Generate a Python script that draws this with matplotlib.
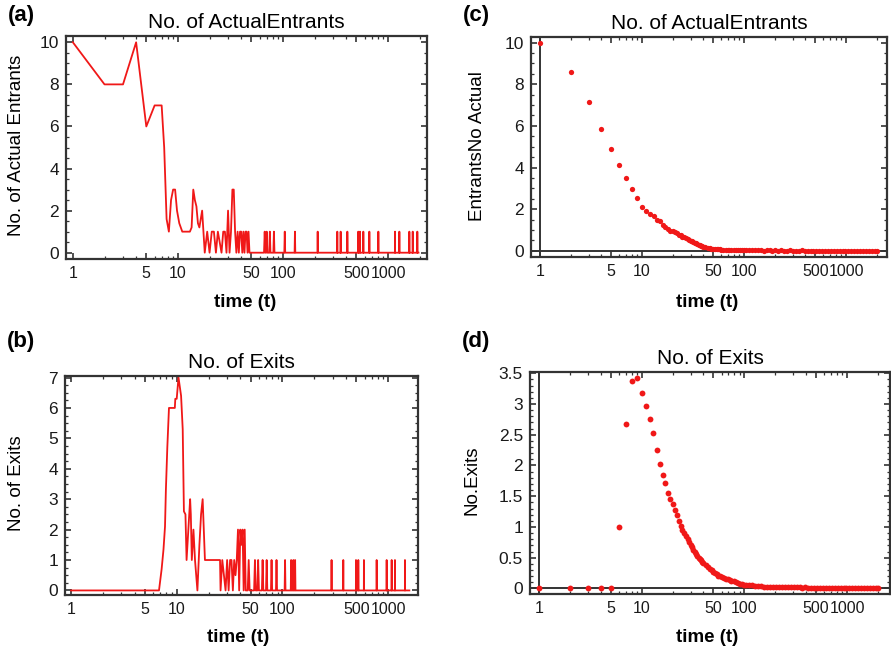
import numpy as np
import matplotlib
matplotlib.use("Agg")
import matplotlib.pyplot as plt
from matplotlib.ticker import FixedLocator, FixedFormatter, MultipleLocator, FormatStrFormatter

plt.rcParams['font.family'] = ['Liberation Sans', 'DejaVu Sans']

RED = '#f01818'
FRAME = '#333333'

# (a) number of actual entrants, single run
entr_t = [1, 2, 3, 4, 5, 6, 7, 7.4, 7.8, 8.2, 8.6, 9, 9.4, 9.8, 10.3, 11, 12, 13, 13.5,
          14, 14.5, 15, 15.5, 16, 17, 17.5, 18, 19, 20,
          21, 22, 23, 24, 25, 26, 27, 28, 29, 30, 31, 32, 33, 34, 35, 36, 37, 38, 39,
          40, 41, 42, 43, 44, 45, 46, 47]
entr_n = [10, 8, 8, 10, 6, 7, 7, 5, 1.6, 1.0, 2.5, 3, 3, 2, 1.4, 1, 1, 1, 1.2,
          3, 2.5, 2.2, 1.4, 1.2, 2, 1, 0, 1, 0,
          1, 1, 0, 1, 0.5, 0, 1, 1, 0, 2, 0, 1, 3, 3, 1, 0, 1, 0, 1,
          1, 0, 1, 0, 1, 1, 0, 1]
entr_spikes = [67, 70, 75, 82, 104, 130, 214, 329, 354, 410, 521, 541, 582, 664,
               809, 1166, 1282, 1596, 1718, 1901]
entr_end = 1950

# (b) number of exits, single run
exit_t = [1, 6.8, 7.2, 7.5, 7.75, 7.9, 8.15, 8.45, 9.6, 9.7, 10, 10.4, 10.7, 11.0, 11.4,
          11.7, 12.1, 12.4, 12.9, 13.4, 13.6, 13.9, 14.4, 14.9, 15.7, 16.4, 17, 17.6,
          18.5, 25.7, 26, 27, 28, 29, 30, 31, 32, 33, 34, 35, 36, 37, 38, 39, 40, 41,
          42, 43, 44, 45]
exit_n = [0, 0, 0.7, 1.35, 2.1, 3.3, 4.7, 6, 6, 6.3, 6.3, 7, 6.7, 6.4, 5.3,
          2.6, 2.5, 1, 2, 3, 2.5, 1, 2, 1, 0, 1.5, 2.5, 3,
          1, 1, 0, 1, 0.5, 0, 1, 0, 1, 1, 0, 1, 0.5, 1, 2, 0, 2, 1.5,
          2, 0, 2, 0]
exit_spikes = [48, 55, 59, 65, 71, 79, 88, 106, 121, 127, 132, 292, 377, 497, 523,
               591, 780, 970, 1082, 1162, 1445]
exit_end = 1590

# (c), (d) averaged series
avg_t = [1, 2, 3, 4, 5, 6, 7, 8, 9, 10,
         11, 12, 13, 14, 15, 16, 17, 18, 19, 20,
         21, 22, 23, 24, 25, 26, 27, 28, 29, 30,
         31, 32, 33, 34, 35, 36, 37, 38, 39, 40, 42, 44, 46, 48, 50,
         52, 54, 56, 58, 60, 63, 66, 69, 72, 75, 79, 83, 87, 91, 95, 100,
         105, 112, 120, 128, 137, 146, 156, 167, 178, 190, 203, 217, 232, 248, 265,
         283, 302, 323, 345, 368, 393, 420, 449, 480, 512, 547, 584, 624, 666, 711,
         760, 811, 866, 925, 988, 1055, 1127, 1203, 1285, 1372, 1465, 1565, 1671,
         1785, 1906, 2000]
avg_entr = [10, 8.6, 7.16, 5.84, 4.87, 4.12, 3.51, 2.97, 2.52, 2.12,
            1.92, 1.76, 1.66, 1.48, 1.42, 1.25, 1.12, 1.05, 0.97, 0.93,
            0.88, 0.84, 0.77, 0.74, 0.67, 0.64, 0.6, 0.55, 0.52, 0.47,
            0.45, 0.42, 0.38, 0.36, 0.32, 0.3, 0.27, 0.25, 0.22, 0.2, 0.17, 0.14, 0.12, 0.1, 0.09,
            0.09, 0.08, 0.07, 0.07, 0.06, 0.06, 0.05, 0.05, 0.05, 0.04, 0.04, 0.04, 0.03, 0.03, 0.03, 0.02,
            0.03, 0.02, 0.02, 0.03, 0.02, 0.02, 0.01, 0.02, 0.02, 0.01, 0.02, 0.01, 0.02,
            0.01, 0.01, 0.02, 0.01, 0.01, 0.01, 0.02, 0.01, 0.01, 0.01, 0.01, 0.01,
            0.01, 0.01, 0.01, 0.01, 0.01, 0.01, 0.01, 0.01, 0.01, 0.01, 0.01, 0.01,
            0.01, 0.01, 0.01, 0.01, 0.01, 0.01, 0.01, 0.01, 0.01]
avg_exit = [0, 0, 0, 0, 0, 1.0, 2.68, 3.37, 3.42, 3.18,
            2.97, 2.76, 2.52, 2.25, 2.03, 1.84, 1.72, 1.55, 1.45, 1.37,
            1.28, 1.2, 1.1, 1.02, 0.95, 0.9, 0.85, 0.8, 0.75, 0.7,
            0.67, 0.63, 0.6, 0.56, 0.53, 0.5, 0.48, 0.46, 0.43, 0.41, 0.38, 0.35, 0.32, 0.3, 0.27,
            0.25, 0.23, 0.21, 0.2, 0.19, 0.17, 0.16, 0.15, 0.13, 0.12, 0.12, 0.1, 0.09, 0.08, 0.07, 0.06,
            0.06, 0.05, 0.05, 0.04, 0.04, 0.04, 0.03, 0.03, 0.03, 0.03, 0.03, 0.02, 0.02,
            0.02, 0.02, 0.02, 0.02, 0.02, 0.02, 0.01, 0.02, 0.01, 0.01, 0.01, 0.01,
            0.01, 0.01, 0.01, 0.01, 0.01, 0.01, 0.01, 0.01, 0.01, 0.01, 0.01, 0.01,
            0.01, 0.01, 0.01, 0.01, 0.01, 0.01, 0.01, 0.01, 0.01]

x_major = [1, 5, 10, 50, 100, 500, 1000]
x_labels = ['1', '5', '10', '50', '100', '500', '1000']
x_minor = [2, 3, 4, 6, 7, 8, 9, 20, 30, 40, 60, 70, 80, 90,
           200, 300, 400, 600, 700, 800, 900, 2000]


def with_spikes(t_early, n_early, spikes, t_end):
    # after the early part the series sits at 0 with single-step jumps to 1
    tail_t = np.arange(int(t_early[-1]) + 1, t_end + 1)
    tail_n = np.isin(tail_t, spikes).astype(float)
    return np.concatenate([t_early, tail_t]), np.concatenate([n_early, tail_n])


def px_axes(fig, left, top, right, bottom):
    W, H = 891, 654
    return fig.add_axes([left / W, 1 - bottom / H, (right - left) / W, (bottom - top) / H])


def style(ax, xlim, ylim, ymajor, yminor, title):
    ax.set_xscale('log')
    ax.set_xlim(*xlim)
    ax.set_ylim(*ylim)
    ax.xaxis.set_major_locator(FixedLocator(x_major))
    ax.xaxis.set_major_formatter(FixedFormatter(x_labels))
    ax.xaxis.set_minor_locator(FixedLocator(x_minor))
    ax.xaxis.set_minor_formatter(FixedFormatter([]))
    ax.yaxis.set_major_locator(MultipleLocator(ymajor))
    ax.yaxis.set_minor_locator(MultipleLocator(yminor))
    ax.yaxis.set_major_formatter(FormatStrFormatter('%g'))
    for s in ax.spines.values():
        s.set_color(FRAME)
        s.set_linewidth(1.6)
    ax.tick_params(which='both', direction='in', top=True, right=True,
                   color=FRAME, labelcolor='#1a1a1a', pad=5)
    ax.tick_params(axis='x', labelsize=11.5)
    ax.tick_params(axis='y', labelsize=12.5)
    ax.tick_params(which='major', length=4.5, width=1.2)
    ax.tick_params(which='minor', length=2.5, width=0.9)
    ax.set_title(title, fontsize=15, pad=6)


fig = plt.figure(figsize=(8.91, 6.54), dpi=100)

# (a)
ax = px_axes(fig, 66, 36, 427, 259)
t, n = with_spikes(entr_t, entr_n, entr_spikes, entr_end)
ax.plot(t, n, color=RED, lw=1.3)
style(ax, (0.86, 2350), (-0.3, 10.3), 2, 0.5, 'No. of ActualEntrants')

# (b)
ax = px_axes(fig, 65, 376, 418, 595)
t, n = with_spikes(exit_t, exit_n, exit_spikes, exit_end)
ax.plot(t, n, color=RED, lw=1.3)
style(ax, (0.877, 1920), (-0.15, 7.05), 1, 0.25, 'No. of Exits')

# (c)
ax = px_axes(fig, 531, 37, 887, 257)
ax.axvline(1, color=FRAME, lw=1.4)
ax.axhline(0, color=FRAME, lw=1.4)
ax.plot(avg_t, avg_entr, 'o', color=RED, ms=3.8, mew=0)
style(ax, (0.82, 2520), (-0.3, 10.27), 2, 0.5, 'No. of ActualEntrants')

# (d)
ax = px_axes(fig, 530, 372, 890, 594)
ax.axvline(1, color=FRAME, lw=1.4)
ax.axhline(0, color=FRAME, lw=1.4)
ax.plot(avg_t, avg_exit, 'o', color=RED, ms=4.2, mew=0)
style(ax, (0.82, 2620), (-0.09, 3.52), 0.5, 0.1, 'No. of Exits')

# panel letters and axis labels
W, H = 891, 654
for lab, x, y in [('(a)', 8, 15), ('(b)', 7, 342), ('(c)', 463, 15), ('(d)', 462, 342)]:
    fig.text(x / W, 1 - y / H, lab, fontsize=16, fontweight='bold', ha='left', va='center')

for x, y in [(245, 302), (238, 638), (707, 302), (707, 638)]:
    fig.text(x / W, 1 - y / H, 'time (t)', fontsize=13.5, fontweight='bold', ha='center', va='center')

for lab, x, y in [('No. of Actual Entrants', 17, 145), ('No. of Exits', 17, 483),
                  ('EntrantsNo Actual', 477, 146), ('No.Exits', 472, 480)]:
    fig.text(x / W, 1 - y / H, lab, fontsize=13.5, rotation=90, ha='center', va='center')

fig.savefig('out.png', dpi=100)
